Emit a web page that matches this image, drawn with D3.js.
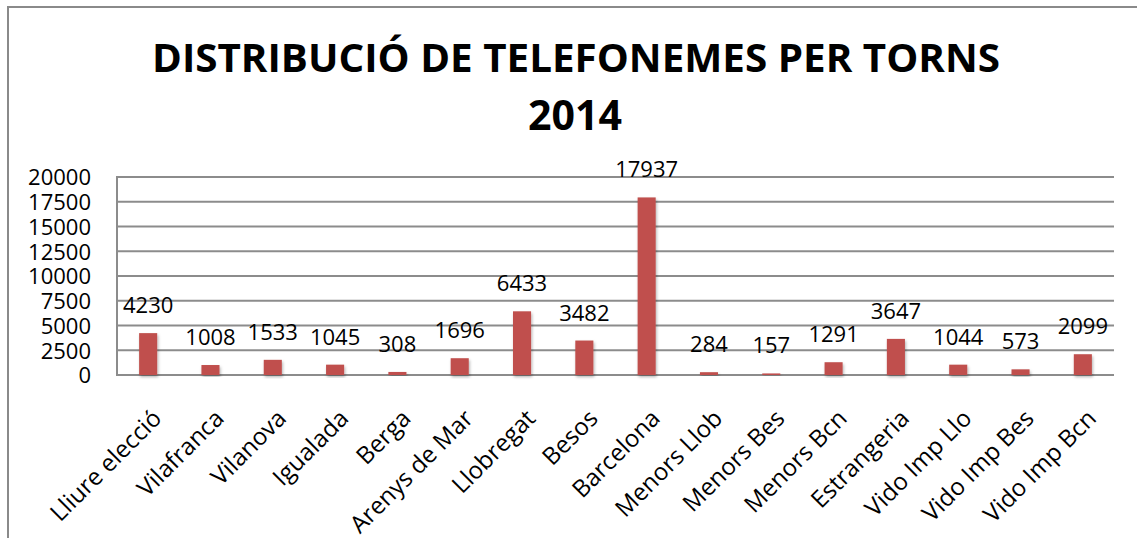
<!DOCTYPE html>
<html>
<head>
<meta charset="utf-8">
<script src="https://cdn.jsdelivr.net/npm/d3@7"></script>
<style>
  body { margin: 0; background: #fff; }
  text { font-family: "Open Sans", "DejaVu Sans", sans-serif; fill: #000; }
</style>
</head>
<body>
<svg id="chart"></svg>
<script>
let width = 1137,
    height = 538;

let categories = ["Lliure elecció", "Vilafranca", "Vilanova", "Igualada", "Berga",
    "Arenys de Mar", "Llobregat", "Besos", "Barcelona", "Menors Llob", "Menors Bes",
    "Menors Bcn", "Estrangeria", "Vido Imp Llo", "Vido Imp Bes", "Vido Imp Bcn"];

let values = [4230, 1008, 1533, 1045, 308, 1696, 6433, 3482, 17937, 284, 157,
    1291, 3647, 1044, 573, 2099];

let yTicks = [0, 2500, 5000, 7500, 10000, 12500, 15000, 17500, 20000];

let titleLines = ["DISTRIBUCIÓ DE TELEFONEMES PER TORNS", "2014"];

let plot = {left: 117, right: 1114, top: 177, bottom: 375};

let svg = d3.select('#chart')
    .attr('width', width)
    .attr('height', height);

// shadow under the bars
let defs = svg.append('defs');
let f = defs.append('filter')
    .attr('id', 'shadow')
    .attr('x', '-50%').attr('y', '-10%')
    .attr('width', '200%').attr('height', '130%');
f.append('feDropShadow')
    .attr('dx', 1).attr('dy', 2)
    .attr('stdDeviation', 1.5)
    .attr('flood-color', '#000')
    .attr('flood-opacity', 0.3);

// outer chart border (runs off the right and bottom edge)
svg.append('rect')
    .attr('x', 8)
    .attr('y', 7)
    .attr('width', width + 20)
    .attr('height', height + 20)
    .style('fill', 'none')
    .style('stroke', '#8a8a8a')
    .style('stroke-width', 2);

// title
svg.append('text')
    .attr('x', 576)
    .attr('y', 72)
    .attr('text-anchor', 'middle')
    .attr('textLength', 848)
    .attr('lengthAdjust', 'spacingAndGlyphs')
    .style('font-size', '40px')
    .style('font-weight', 'bold')
    .text(titleLines[0]);

svg.append('text')
    .attr('x', 575)
    .attr('y', 130)
    .attr('text-anchor', 'middle')
    .attr('textLength', 94)
    .attr('lengthAdjust', 'spacingAndGlyphs')
    .style('font-size', '41px')
    .style('font-weight', 'bold')
    .text(titleLines[1]);

let x = d3.scaleBand()
    .domain(categories)
    .range([plot.left, plot.right])
    .paddingInner(0.71)
    .paddingOuter(0.355);

let y = d3.scaleLinear()
    .domain([0, 20000])
    .range([plot.bottom, plot.top]);

// gridlines
svg.append('g')
    .selectAll('line')
    .data(yTicks)
    .enter()
    .append('line')
    .attr('x1', plot.left)
    .attr('x2', plot.right)
    .attr('y1', function(d) { return y(d); })
    .attr('y2', function(d) { return y(d); })
    .style('stroke', '#8c8c8c')
    .style('stroke-width', 2);

// left axis line
svg.append('line')
    .attr('x1', plot.left)
    .attr('x2', plot.left)
    .attr('y1', plot.top - 1)
    .attr('y2', plot.bottom + 1)
    .style('stroke', '#8c8c8c')
    .style('stroke-width', 2);

// y axis labels
let yAxis = svg.append('g')
    .attr('transform', 'translate(' + (plot.left - 26) + ',0)')
    .call(d3.axisLeft(y).tickValues(yTicks).tickFormat(d3.format('d')).tickSize(0).tickPadding(0));
yAxis.select('.domain').remove();
yAxis.selectAll('text')
    .style('font-size', '22px')
    .style('font-family', '"Open Sans", sans-serif')
    .style('fill', '#000')
    .attr('dy', '0.36em');

// bars
svg.append('g')
    .selectAll('rect')
    .data(values)
    .enter()
    .append('rect')
    .attr('x', function(d, i) { return x(categories[i]); })
    .attr('y', function(d) { return y(d); })
    .attr('width', x.bandwidth())
    .attr('height', function(d) { return plot.bottom - y(d); })
    .attr('filter', 'url(#shadow)')
    .style('fill', '#C0504D');

// value labels
svg.append('g')
    .selectAll('text')
    .data(values)
    .enter()
    .append('text')
    .attr('x', function(d, i) { return x(categories[i]) + x.bandwidth() / 2; })
    .attr('y', function(d) { return y(d) - 20; })
    .attr('text-anchor', 'middle')
    .style('font-size', '22px')
    .text(function(d) { return d; });

// category labels, rotated
svg.append('g')
    .selectAll('text')
    .data(categories)
    .enter()
    .append('text')
    .attr('transform', function(d) {
        let cx = x(d) + x.bandwidth() / 2;
        return 'translate(' + (cx + 3) + ',' + 408 + ') rotate(-45)';
    })
    .attr('text-anchor', 'end')
    .attr('dy', '0.7em')
    .style('font-size', '24px')
    .text(function(d) { return d; });
</script>
</body>
</html>
